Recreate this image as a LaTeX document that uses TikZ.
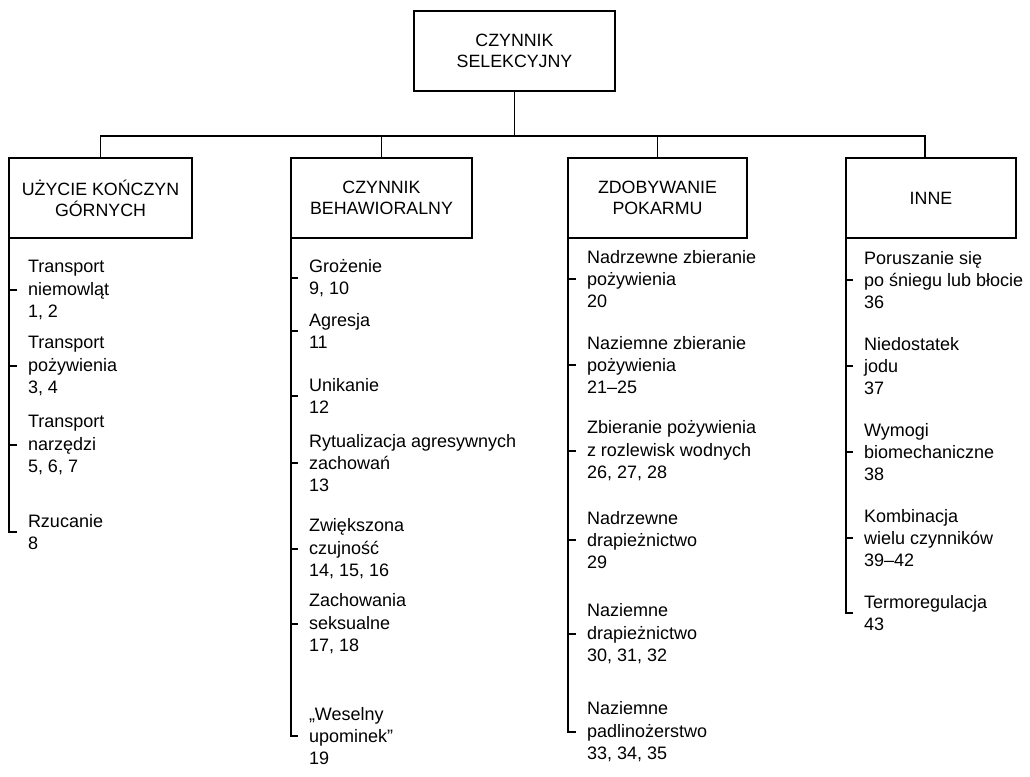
\documentclass[tikz,border=0pt]{standalone}
\usepackage{fontspec}
\setmainfont{Liberation Sans}
\begin{document}
\begin{tikzpicture}[x=1pt,y=-1pt,
  box/.style={draw, line width=1.6pt, inner sep=0pt, outer sep=0pt, align=center,
    minimum height=80pt, font=\fontsize{17.8}{21}\selectfont},
  item/.style={anchor=west, inner sep=0pt, outer sep=0pt, align=left,
    font=\fontsize{18}{22.4}\selectfont},
  conn/.style={line width=1.5pt},
  tick/.style={line width=1.5pt}]
\useasboundingbox[fill=white] (0,0) rectangle (1030,776);
% boxes
\node[box, minimum width=201pt] (top) at (514.5,51) {CZYNNIK\\SELEKCYJNY};
\node[box, minimum width=183pt] (b1) at (100.5,198) {UŻYCIE KOŃCZYN\\GÓRNYCH};
\node[box, minimum width=181pt] (b2) at (381.5,198) {CZYNNIK\\BEHAWIORALNY};
\node[box, minimum width=179pt] (b3) at (657.5,198) {ZDOBYWANIE\\POKARMU};
\node[box, minimum width=170pt] (b4) at (931,198) {INNE};
% tree connectors
\coordinate (bus) at (514.5,136);
\draw[conn] (top.south) -- (bus);
\draw[conn] (b1.north) |- (bus) -| ([xshift=-6pt]b4.north);
\draw[conn] (b2.north) -- (b2.north |- bus);
\draw[conn] (b3.north) -- (b3.north |- bus);
% column 1
\node[item] (a1) at (28,290) {Transport\\niemowląt\\1, 2};
\node[item] (a2) at (28,366) {Transport\\pożywienia\\3, 4};
\node[item] (a3) at (28,445) {Transport\\narzędzi\\5, 6, 7};
\node[item] (a4) at (28,532) {Rzucanie\\8};
\draw[conn] (b1.south west) |- ([xshift=-11pt]a4.west);
\foreach \n in {a1,a2,a3} \draw[tick] (b1.south west |- \n.west) -- ([xshift=-11pt]\n.west);
% column 2
\node[item] (c1) at (309,278) {Grożenie\\9, 10};
\node[item] (c2) at (309,331) {Agresja\\11};
\node[item] (c3) at (309,396) {Unikanie\\12};
\node[item] (c4) at (309,463) {Rytualizacja agresywnych\\zachowań\\13};
\node[item] (c5) at (309,549) {Zwiększona\\czujność\\14, 15, 16};
\node[item] (c6) at (309,624) {Zachowania\\seksualne\\17, 18};
\node[item] (c7) at (309,736) {„Weselny\\upominek”\\19};
\draw[conn] (b2.south west) |- ([xshift=-11pt]c7.west);
\foreach \n in {c1,c2,c3,c4,c5,c6} \draw[tick] (b2.south west |- \n.west) -- ([xshift=-11pt]\n.west);
% column 3
\node[item] (d1) at (587,279) {Nadrzewne zbieranie\\pożywienia\\20};
\node[item] (d2) at (587,365) {Naziemne zbieranie\\pożywienia\\21–25};
\node[item] (d3) at (587,451) {Zbieranie pożywienia\\z rozlewisk wodnych\\26, 27, 28};
\node[item] (d4) at (587,540) {Nadrzewne\\drapieżnictwo\\29};
\node[item] (d5) at (587,634) {Naziemne\\drapieżnictwo\\30, 31, 32};
\node[item] (d6) at (587,732) {Naziemne\\padlinożerstwo\\33, 34, 35};
\draw[conn] (b3.south west) |- ([xshift=-11pt]d6.west);
\foreach \n in {d1,d2,d3,d4,d5} \draw[tick] (b3.south west |- \n.west) -- ([xshift=-11pt]\n.west);
% column 4
\node[item] (e1) at (864,280) {Poruszanie się\\po śniegu lub błocie\\36};
\node[item] (e2) at (864,366) {Niedostatek\\jodu\\37};
\node[item] (e3) at (864,452) {Wymogi\\biomechaniczne\\38};
\node[item] (e4) at (864,538) {Kombinacja\\wielu czynników\\39–42};
\node[item] (e5) at (864,613) {Termoregulacja\\43};
\draw[conn] (b4.south west) |- ([xshift=-11pt]e5.west);
\foreach \n in {e1,e2,e3,e4} \draw[tick] (b4.south west |- \n.west) -- ([xshift=-11pt]\n.west);
\end{tikzpicture}
\end{document}
